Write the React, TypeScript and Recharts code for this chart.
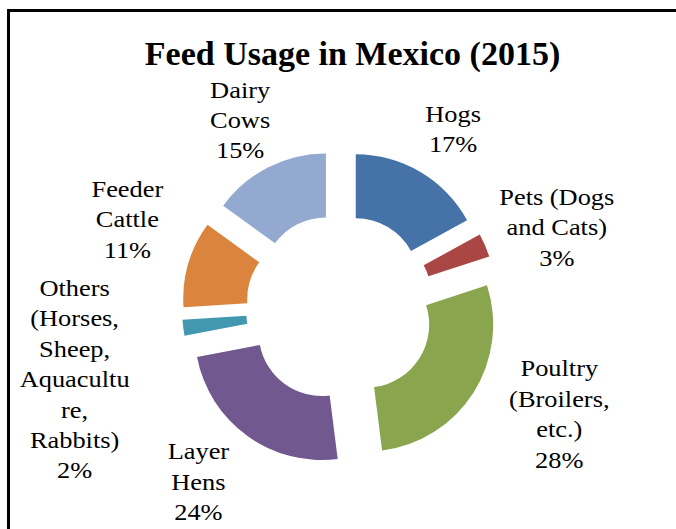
import { PieChart, Pie, Cell, Sector } from "recharts";

const NAMES = [
  "Hogs",
  "Pets (Dogs and Cats)",
  "Poultry (Broilers, etc.)",
  "Layer Hens",
  "Others (Horses, Sheep, Aquaculture, Rabbits)",
  "Feeder Cattle",
  "Dairy Cows",
];
const SHARES = [17, 3, 28, 24, 2, 11, 15];
// label text as Excel wrapped it
const LABEL_LINES = [
  ["Hogs"],
  ["Pets (Dogs", "and Cats)"],
  ["Poultry", "(Broilers,", "etc.)"],
  ["Layer", "Hens"],
  ["Others", "(Horses,", "Sheep,", "Aquacultu", "re,", "Rabbits)"],
  ["Feeder", "Cattle"],
  ["Dairy", "Cows"],
];
const COLORS = ["#4572A7", "#AA4643", "#89A54E", "#71588F", "#4198AF", "#DB843D", "#93A9CF"];

// label placement: distance from the pie centre, and a small clockwise nudge in degrees
const LABEL_DIST = [211, 231, 244, 225, 275, 230, 212];
const LABEL_NUDGE = [1.8, 3.2, -6.4, 3, -8, 6.2, -1.1];

const data = NAMES.map((name, i) => ({ name, value: SHARES[i] }));

const W = 676;
const H = 529;
const EXPLODE = 31;
const LINE = 30.4;
const RAD = Math.PI / 180;
const FONT = "'Liberation Serif', 'Times New Roman', serif";

const ExplodedSector = (props: any) => {
  const a = -props.midAngle * RAD;
  return (
    <Sector
      {...props}
      cx={props.cx + EXPLODE * Math.cos(a)}
      cy={props.cy + EXPLODE * Math.sin(a)}
      stroke="none"
    />
  );
};

const renderLabel = (props: any) => {
  const { cx, cy, midAngle, index, percent } = props;
  const a = -(midAngle - LABEL_NUDGE[index]) * RAD;
  const x = cx + LABEL_DIST[index] * Math.cos(a);
  const y = cy + LABEL_DIST[index] * Math.sin(a);
  const lines = [...LABEL_LINES[index], `${Math.round(percent * 100)}%`];
  const first = 7 - ((lines.length - 1) * LINE) / 2;
  return (
    <g transform={`translate(${x},${y}) scale(1.1,1)`}>
      <text textAnchor="middle" fontFamily={FONT} fontSize={24} fill="#000">
        {lines.map((l, i) => (
          <tspan key={i} x={0} y={first + i * LINE}>
            {l}
          </tspan>
        ))}
      </text>
    </g>
  );
};

export default function App() {
  return (
    <div style={{ position: "absolute", left: 0, top: 0, width: W, height: H, background: "#fff", overflow: "hidden" }}>
      <svg width={W} height={H} style={{ position: "absolute", left: 0, top: 0 }}>
        <rect x={8.5} y={10.5} width={800} height={700} fill="none" stroke="#000" strokeWidth={3} />
        <text x={352.5} y={65} textAnchor="middle" fontFamily={FONT} fontWeight="bold" fontSize={34} fill="#000">
          Feed Usage in Mexico (2015)
        </text>
      </svg>
      <div style={{ position: "absolute", left: 0, top: 0 }}>
        <PieChart width={W} height={H} margin={{ top: 0, right: 0, bottom: 0, left: 0 }}>
          <Pie
            data={data}
            dataKey="value"
            nameKey="name"
            cx={340}
            cy={308}
            innerRadius={63}
            outerRadius={127}
            startAngle={90}
            endAngle={-270}
            paddingAngle={0}
            stroke="none"
            shape={ExplodedSector}
            label={renderLabel}
            labelLine={false}
            isAnimationActive={false}
          >
            {data.map((d, i) => (
              <Cell key={d.name} fill={COLORS[i]} />
            ))}
          </Pie>
        </PieChart>
      </div>
    </div>
  );
}
